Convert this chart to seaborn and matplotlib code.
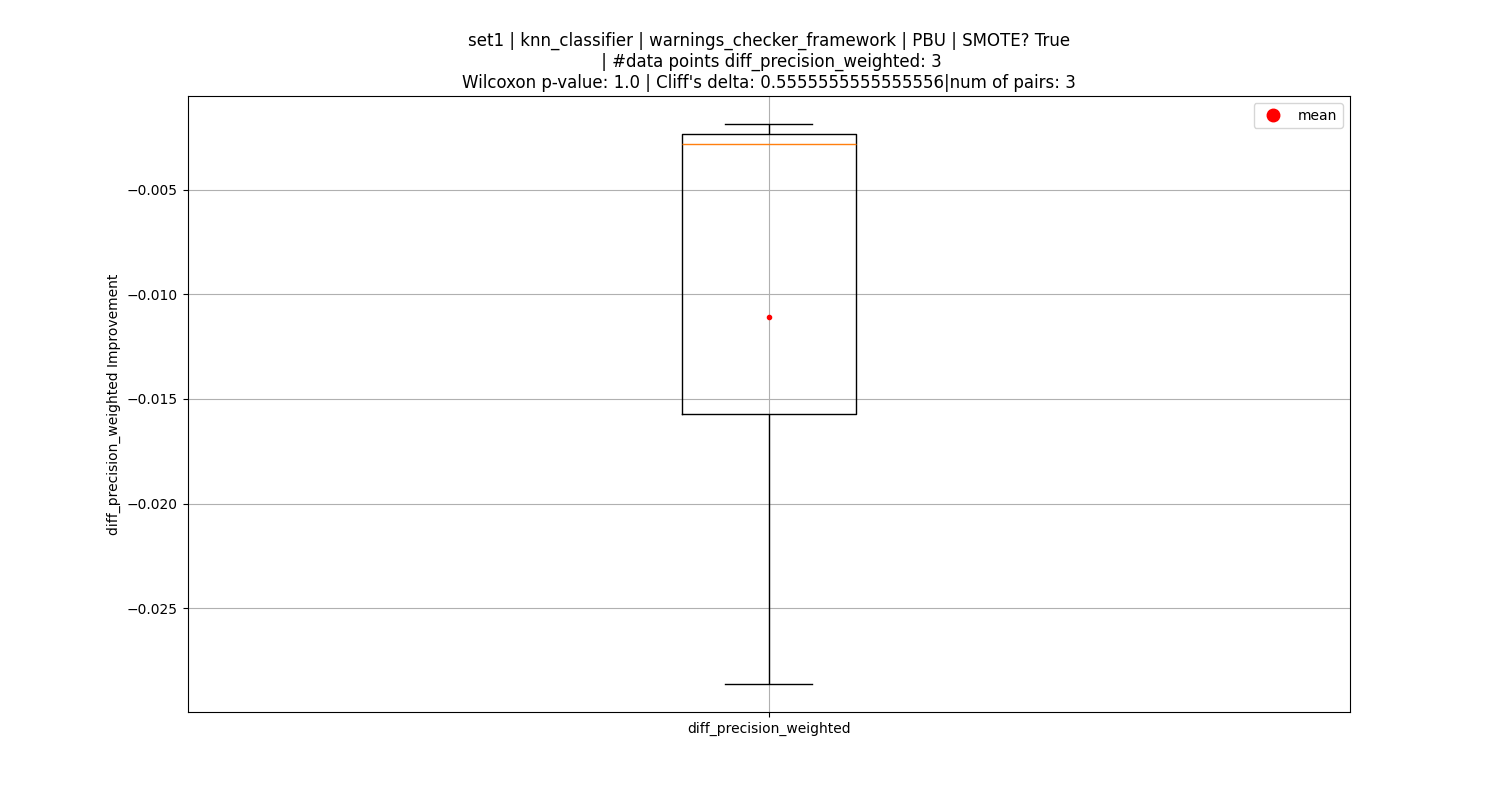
import pandas as pd
import matplotlib
matplotlib.use("Agg")
import matplotlib.pyplot as plt
from matplotlib.lines import Line2D
import seaborn as sns

# values (3 pairs)
METRIC = "diff_precision_weighted"
diff_values = [-0.00186, -0.00281, -0.02862]
TITLE = ("set1 | knn_classifier | warnings_checker_framework | PBU | SMOTE? True\n"
         " | #data points diff_precision_weighted: 3\n"
         "Wilcoxon p-value: 1.0 | Cliff's delta: 0.5555555555555556|num of pairs: 3")

df = pd.DataFrame({"metric": [METRIC] * len(diff_values), "value": diff_values})

fig, ax = plt.subplots(figsize=(15, 8), dpi=100)
sns.boxplot(
    data=df, x="metric", y="value", ax=ax,
    fill=False, color="black", linewidth=1, width=0.15, whis=1.5,
    medianprops={"color": "#ff7f0e", "linewidth": 1},
)

mean_val = df["value"].mean()
ax.plot([0], [mean_val], "o", color="red", markersize=3)

handle = Line2D([], [], marker="o", color="red", linestyle="none", markersize=9)
ax.legend([handle], ["mean"], loc="upper right")

ax.set_xlim(-0.5, 0.5)
ax.set_xlabel("")
ax.set_ylabel(f"{METRIC} Improvement")
ax.set_title(TITLE)
ax.grid(True)

plt.savefig("out.png", dpi=100)
plt.close()
